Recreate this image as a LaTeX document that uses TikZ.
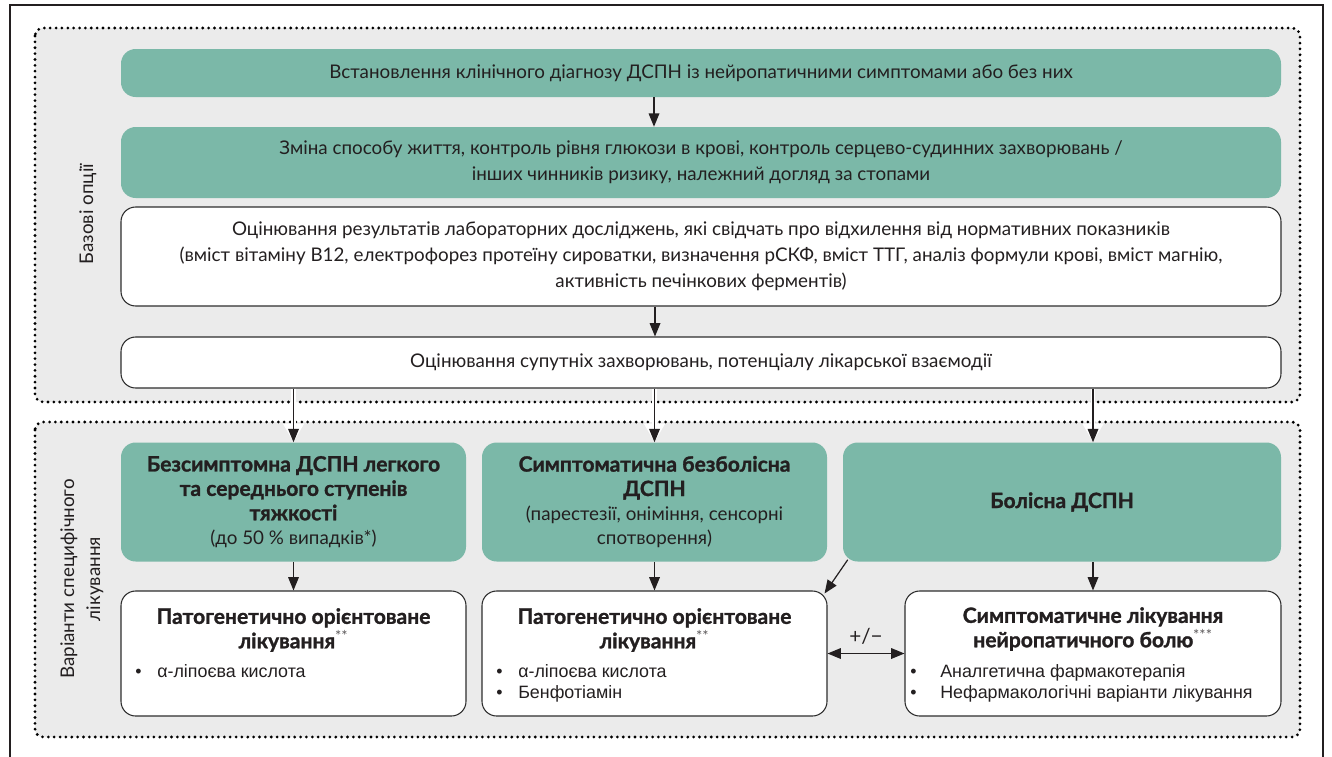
\documentclass[tikz,border=0pt]{standalone}
\usepackage{fontspec}
\setmainfont{Lato}[BoldFeatures={FakeBold=1.3}]
\newfontfamily\listfont{Liberation Sans}
\usetikzlibrary{arrows.meta,calc}

\definecolor{panelgreen}{RGB}{123,184,168}
\definecolor{panelgray}{RGB}{235,235,235}
\definecolor{ink}{RGB}{35,31,32}
\definecolor{boxline}{RGB}{45,45,45}

\tikzset{
  px/.style={x=0.75pt,y=-0.75pt},
  panel/.style={rectangle, inner sep=0pt, rounded corners=11pt, text=ink, align=center},
  greenbox/.style={panel, fill=panelgreen},
  whitebox/.style={panel, fill=white, draw=boxline, line width=0.8pt},
  zone/.style={fill=panelgray, draw=black, line width=2.3pt, dash pattern=on 0pt off 4.4pt,
               line cap=round, rounded corners=6pt},
  flow/.style={draw=ink, line width=0.9pt, -{Triangle[length=10pt,width=8pt]}},
  twoway/.style={draw=ink, line width=0.9pt, {Triangle[length=10pt,width=8pt]}-{Triangle[length=10pt,width=8pt]}},
  halo/.style={draw=white, line width=3.5pt, -{Triangle[length=14pt,width=15pt]}},
  body/.style={font=\fontsize{14.1}{19.5}\selectfont},
  head/.style={font=\bfseries\fontsize{15.8}{18.3}\selectfont},
  bullets/.style={text=ink, align=left, inner sep=0pt, font=\listfont\fontsize{13.4}{15.8}\selectfont},
  sidelabel/.style={text=ink, align=center, rotate=90, font=\fontsize{14.1}{19.5}\selectfont},
}

\newcommand{\bul}[1]{\makebox[#1][l]{\textbullet}}
\newcommand{\starmark}[1]{\textsuperscript{\mdseries\color{ink!75} #1}}
\newcommand{\lite}{\mdseries\fontsize{14.1}{18.5}\selectfont}

\begin{document}
\begin{tikzpicture}[px]
  \useasboundingbox (0,0) rectangle (1332,757);
  \clip (0,0) rectangle (1332,757);

  % outer frame
  \draw[ink, line width=0.8pt] (10,5) rectangle (1323,790);

  % two dotted zones
  \path[zone] (35,28) rectangle (1300,402);
  \path[zone] (35,422) rectangle (1300,737);

  \node[sidelabel] (lblA) at (88,214) {Базові опції};
  \node[sidelabel] (lblB) at (82,579) {Варіанти специфічного\\лікування};

  % basic options
  \node[greenbox, body, minimum width=0.75*1160pt, minimum height=0.75*48pt] (b1) at (701,73)
    {Встановлення клінічного діагнозу ДСПН із нейропатичними симптомами або без них};
  \node[greenbox, body, minimum width=0.75*1160pt, minimum height=0.75*71pt] (b2) at (701,162.5)
    {Зміна способу життя, контроль рівня глюкози в крові, контроль серцево-судинних захворювань /\\
     інших чинників ризику, належний догляд за стопами};
  \node[whitebox, body, minimum width=0.75*1160pt, minimum height=0.75*99pt] (b3) at (701,256.5)
    {Оцінювання результатів лабораторних досліджень, які свідчать про відхилення від нормативних показників\\
     (вміст вітаміну В12, електрофорез протеїну сироватки, визначення рСКФ, вміст ТТГ, аналіз формули крові, вміст магнію,\\
     активність печінкових ферментів)};
  \node[whitebox, body, minimum width=0.75*1160pt, minimum height=0.75*51pt] (b4) at (701,362.5)
    {Оцінювання супутніх захворювань, потенціалу лікарської взаємодії};

  % specific treatment: disease categories
  \node[greenbox, head, minimum width=0.75*345pt, minimum height=0.75*119pt] (g1) at (293.5,502)
    {Безсимптомна ДСПН легкого\\та середнього ступенів\\тяжкості\\\lite (до 50 \% випадків*)};
  \node[greenbox, head, minimum width=0.75*345pt, minimum height=0.75*119pt] (g2) at (654.5,502)
    {Симптоматична безболісна\\ДСПН\\\lite (парестезії, оніміння, сенсорні\\\lite спотворення)};
  \node[greenbox, head, minimum width=0.75*438pt, minimum height=0.75*119pt] (g3) at (1062,502)
    {Болісна ДСПН};

  % treatment boxes
  \node[whitebox, minimum width=0.75*345pt, minimum height=0.75*125pt] (w1) at (293.5,653.5) {};
  \node[whitebox, minimum width=0.75*345pt, minimum height=0.75*125pt] (w2) at (654.5,653.5) {};
  \node[whitebox, minimum width=0.75*376pt, minimum height=0.75*125pt] (w3) at (1093,653.5) {};

  \node[head, text=ink, align=center] (h1) at (293.5,630) {Патогенетично орієнтоване\\лікування\starmark{**}};
  \node[head, text=ink, align=center] (h2) at (654.5,630) {Патогенетично орієнтоване\\лікування\starmark{**}};
  \node[head, text=ink, align=center] (h3) at (1093,629) {Симптоматичне лікування\\нейропатичного болю\starmark{***}};

  \node[bullets, anchor=west] (l1) at (135,671) {\bul{16.5pt}α-ліпоєва кислота};
  \node[bullets, anchor=west] (l2) at (496,683) {\bul{16.5pt}α-ліпоєва кислота\\\bul{16.5pt}Бенфотіамін};
  \node[bullets, anchor=west] (l3) at (910,683) {\bul{22.5pt}Аналгетична фармакотерапія\\\bul{22.5pt}Нефармакологічні варіанти лікування};

  % connectors
  \draw[flow] (b1.south -| 654,0) -- (b2.north -| 654,0);
  \draw[flow] (b3.south -| 655,0) -- (b4.north -| 655,0);

  \draw[halo] (g1.north |- b4.south) -- (g1.north);
  \draw[halo] (g2.north |- b4.south) -- (g2.north);
  \draw[halo] (w3.north |- b4.south) -- (w3.north |- g3.north);
  \draw[flow] (g1.north |- b4.south) -- (g1.north);
  \draw[flow] (g2.north |- b4.south) -- (g2.north);
  \draw[flow] (w3.north |- b4.south) -- (w3.north |- g3.north);

  \draw[flow] (g1.south) -- (w1.north);
  \draw[flow] (g2.south) -- (w2.north);
  \draw[flow] (w3.north |- g3.south) -- (w3.north);
  \draw[flow] ($(g3.south west)+(5,-2)$) -- ($(w2.north east)+(-3,3)$);

  \draw[twoway] (w2.east) -- (w3.west)
    node[midway, above=3pt, text=ink, font=\fontsize{15.5}{18}\selectfont] (pm) {+/−};
\end{tikzpicture}
\end{document}
